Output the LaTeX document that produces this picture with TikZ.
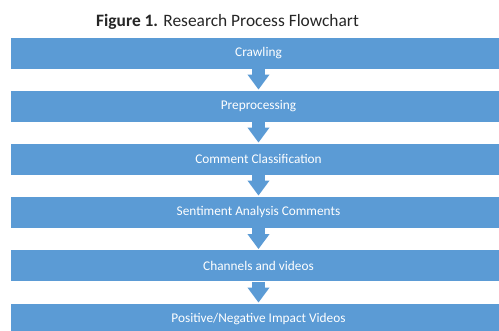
\documentclass[tikz,border=0pt]{standalone}
\usepackage{fontspec}
\setmainfont{Carlito}
\usetikzlibrary{arrows.meta}
\definecolor{boxblue}{HTML}{5B9BD5}
\definecolor{titlegray}{HTML}{262626}
\tikzset{
  stepbox/.style={rectangle, fill=boxblue, draw=white, line width=0.8pt,
    minimum width=497pt, minimum height=32pt, inner sep=0pt,
    text=white, font=\fontsize{13.3}{15}\selectfont},
  flowarrow/.style={boxblue, line width=13pt,
    -{Triangle[width=21pt,length=15pt]}, shorten >=0pt}
}
\begin{document}
\begin{tikzpicture}[x=1pt,y=-1pt]
\useasboundingbox (0,0) rectangle (499,331);
\clip (0,0) rectangle (499,331);
\fill[white] (0,0) rectangle (499,331);
\node[text=titlegray, font=\fontsize{17.4}{20}\selectfont] (title) at (227.5,22) {\textbf{Figure 1.} Research Process Flowchart};
\node[stepbox] (s1) at (258.5,53) {Crawling};
\node[stepbox] (s2) at (258.5,106) {Preprocessing};
\node[stepbox] (s3) at (258.5,159) {Comment Classification};
\node[stepbox] (s4) at (258.5,212) {Sentiment Analysis Comments};
\node[stepbox] (s5) at (258.5,265.5) {Channels and videos};
\node[stepbox] (s6) at (258.5,319) {Positive/Negative Impact Videos};
\foreach \a/\b in {s1/s2,s2/s3,s3/s4,s4/s5,s5/s6}{
  \draw[flowarrow] (\a.south) -- (\b.north);
}
\end{tikzpicture}
\end{document}
